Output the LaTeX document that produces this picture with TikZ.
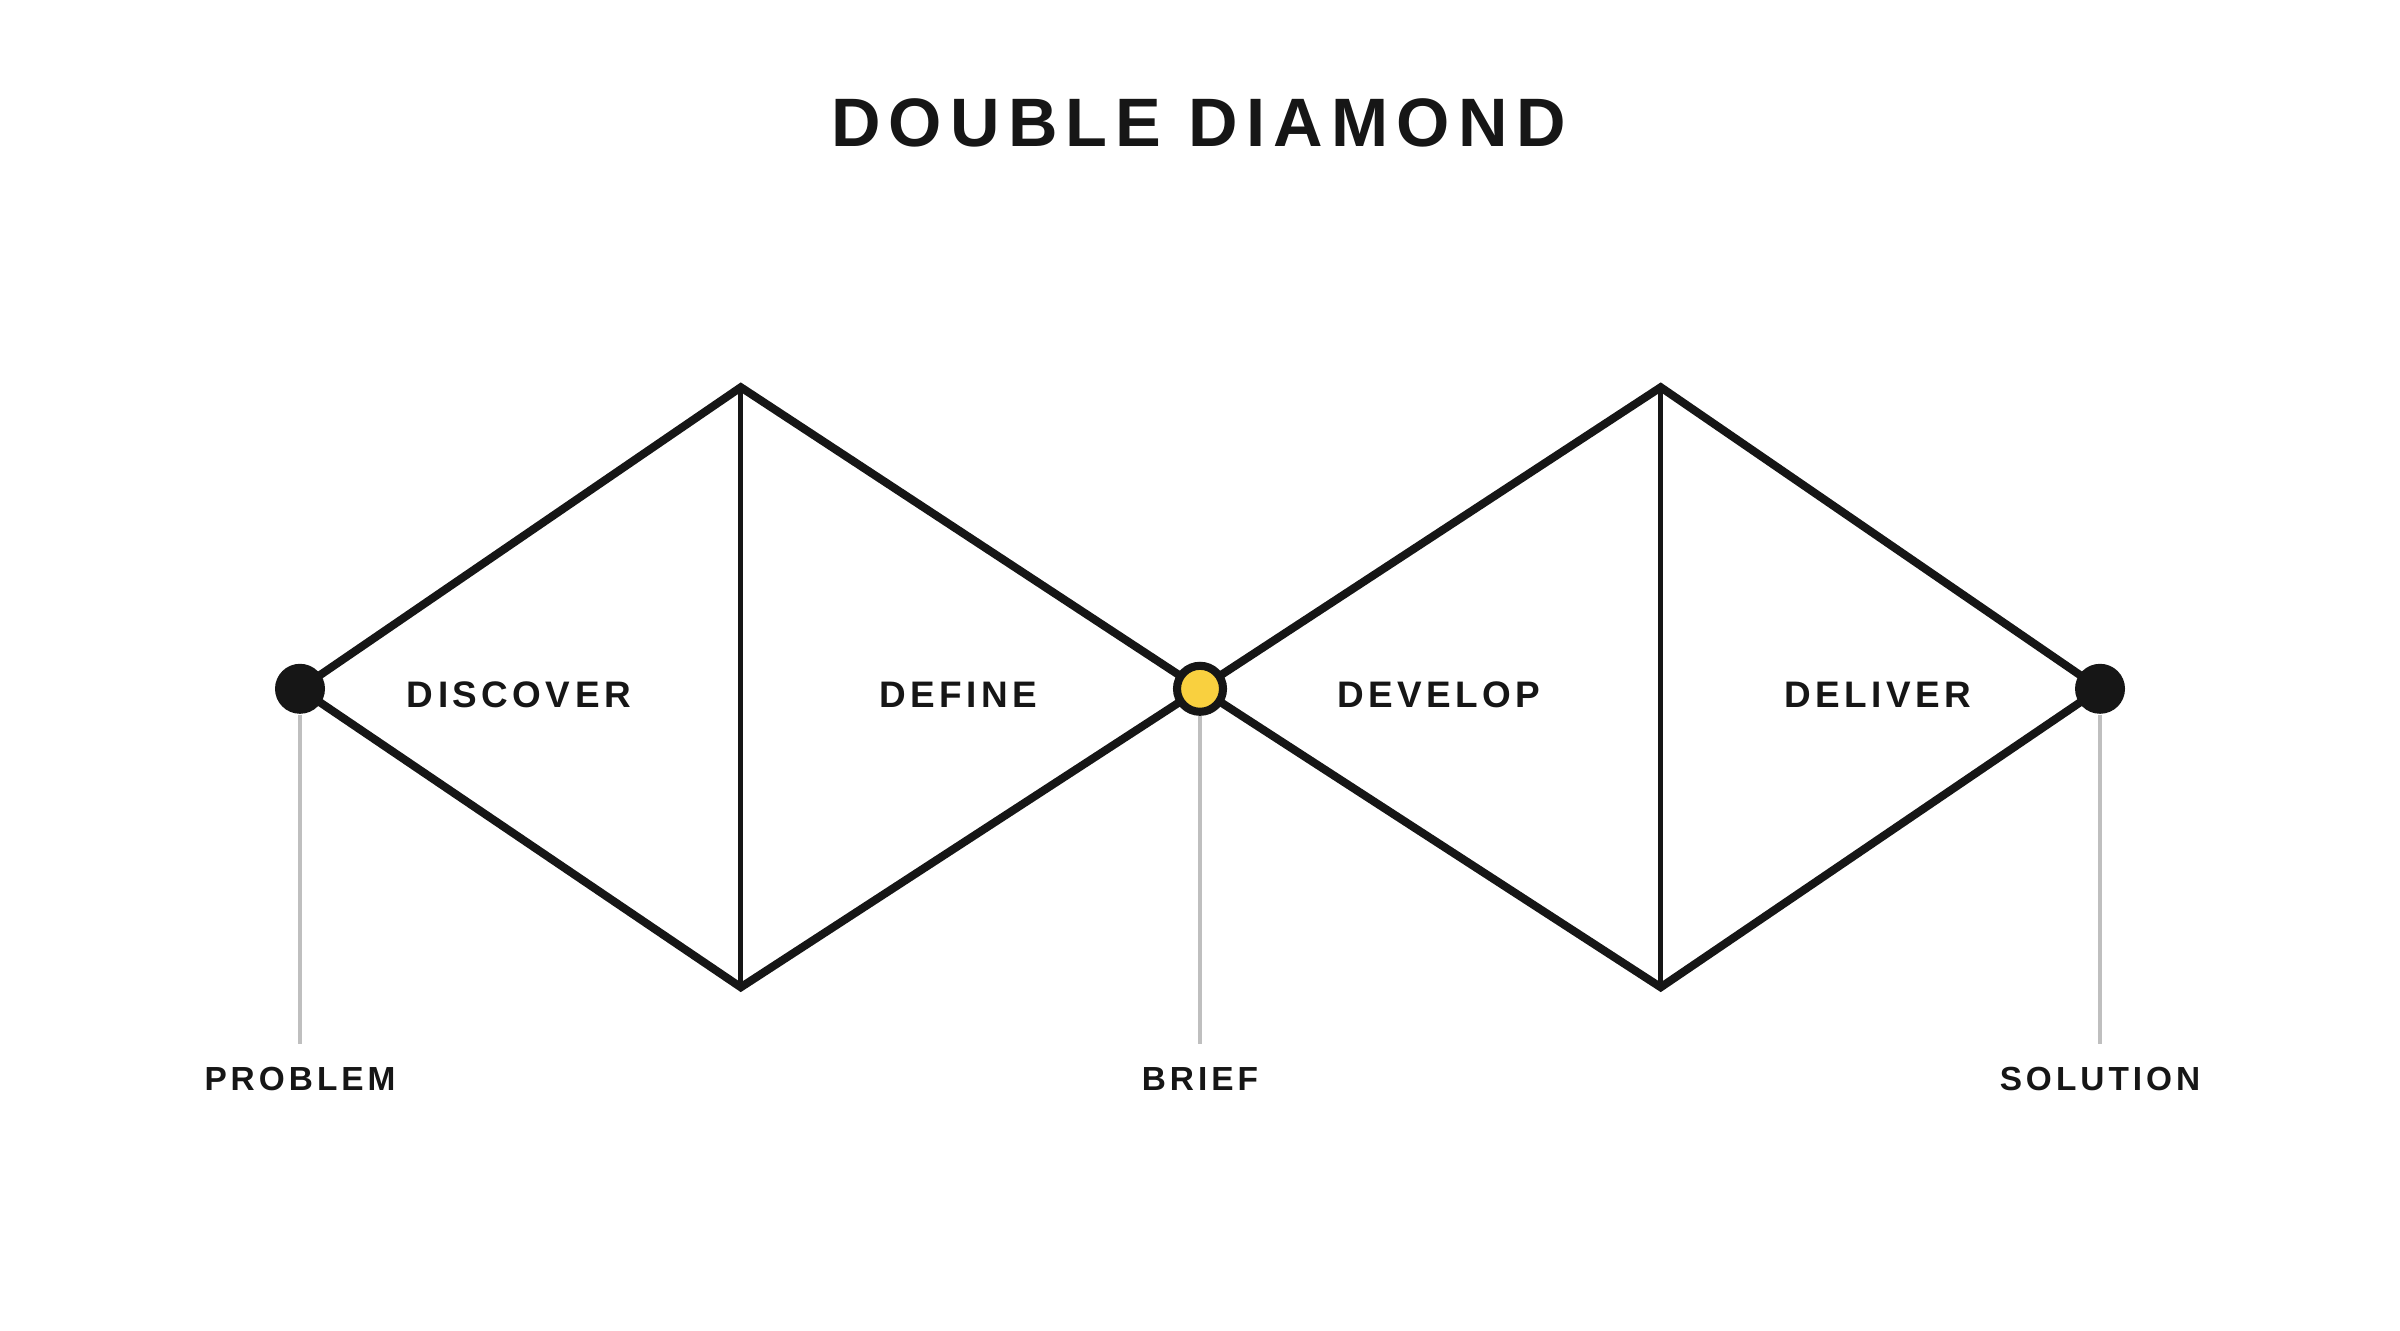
\documentclass[tikz,border=0pt]{standalone}
\usepackage{fontspec}
\setmainfont{Liberation Sans}
\newfontfamily\spaced[LetterSpace=12]{Liberation Sans}
\usetikzlibrary{positioning}
\definecolor{ink}{HTML}{161616}
\definecolor{gold}{HTML}{F9D03F}
\tikzset{
  edge/.style={draw=ink, line width=2.3pt, line join=miter},
  mid/.style={draw=ink, line width=1.5pt},
  dot/.style={circle, fill=ink, minimum size=0.5cm, inner sep=0pt},
  hub/.style={dot, fill=gold, draw=ink, line width=2.3pt, minimum size=0.46cm},
  lead/.style={draw=black!25, line width=1pt},
  phase/.style={font=\spaced\bfseries\fontsize{10.5}{12}\selectfont, text=ink},
  tag/.style={font=\spaced\bfseries\fontsize{9.5}{11}\selectfont, text=ink}
}
\begin{document}
\begin{tikzpicture}[x=0.01531cm, y=-0.01531cm]
\useasboundingbox (0,0) rectangle (1568,869);

\node[font=\spaced\bfseries\fontsize{19.5}{22}\selectfont, text=ink] (title) at (783,80) {DOUBLE DIAMOND};

% corners
\coordinate (left) at (196,450);
\coordinate (top1) at (484,253);
\coordinate (bot1) at (484,645);
\coordinate (mid) at (784,450);
\coordinate (top2) at (1085,253);
\coordinate (bot2) at (1085,645);
\coordinate (right) at (1372,450);

% diamonds
\draw[mid] (top1) -- (bot1);
\draw[mid] (top2) -- (bot2);
\draw[edge] (left) -- (top1) -- (mid) -- (bot1) -- cycle;
\draw[edge] (mid) -- (top2) -- (right) -- (bot2) -- cycle;

\node[dot] (problem) at (left) {};
\node[hub] (brief) at (mid) {};
\node[dot] (solution) at (right) {};

% phases
\node[phase] (discover) at (339,454) {DISCOVER};
\node[phase] (define) at (626,454) {DEFINE};
\node[phase] (develop) at (940,454) {DEVELOP};
\node[phase] (deliver) at (1227,454) {DELIVER};

% leaders
\foreach \n/\t in {problem/PROBLEM, brief/BRIEF, solution/SOLUTION} {
  \node[tag] (\n-tag) at ([yshift=-3.90cm]\n) {\t};
  \coordinate (\n-end) at ([yshift=-3.55cm]\n);
  \draw[lead] (\n.south) -- (\n-end);
}
\end{tikzpicture}
\end{document}
